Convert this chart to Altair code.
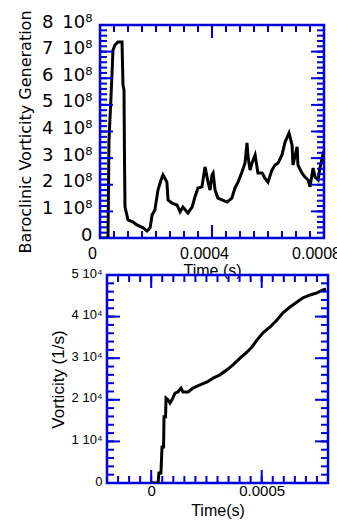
import altair as alt
import pandas as pd

BLUE = "#0000dd"

# ---------- top panel: baroclinic vorticity generation ----------
top_time = [0.0, 2.86e-5, 3.21e-5, 3.93e-5, 4.64e-5, 5.36e-5, 6.43e-5, 7.86e-5, 8.21e-5, 8.57e-5,
            8.75e-5, 8.93e-5, 1.00e-4, 1.18e-4, 1.32e-4, 1.54e-4, 1.68e-4, 1.79e-4, 1.86e-4, 1.96e-4,
            2.07e-4, 2.18e-4, 2.25e-4, 2.39e-4, 2.43e-4, 2.57e-4, 2.75e-4, 2.86e-4, 2.96e-4, 3.14e-4,
            3.29e-4, 3.39e-4, 3.50e-4, 3.64e-4, 3.75e-4, 3.86e-4, 3.93e-4, 4.00e-4, 4.04e-4, 4.11e-4,
            4.21e-4, 4.36e-4, 4.54e-4, 4.71e-4, 4.82e-4, 4.93e-4, 5.07e-4, 5.18e-4, 5.25e-4, 5.29e-4,
            5.36e-4, 5.43e-4, 5.54e-4, 5.64e-4, 5.79e-4, 5.89e-4, 6.00e-4, 6.14e-4, 6.25e-4, 6.36e-4,
            6.50e-4, 6.61e-4, 6.75e-4, 6.86e-4, 6.89e-4, 7.04e-4, 7.07e-4, 7.21e-4, 7.32e-4, 7.43e-4,
            7.50e-4, 7.61e-4, 7.68e-4, 7.79e-4, 7.86e-4, 7.96e-4, 8.04e-4]
top_bvg = [0.0, 0.0, 3.68e8, 5.30e8, 7.06e8, 7.25e8, 7.36e8, 7.36e8, 5.75e8, 5.56e8,
           2.93e8, 1.16e8, 0.68e8, 0.60e8, 0.49e8, 0.38e8, 0.26e8, 0.38e8, 0.86e8, 1.05e8,
           1.80e8, 2.18e8, 2.37e8, 2.10e8, 1.43e8, 1.31e8, 1.24e8, 0.98e8, 1.16e8, 0.94e8,
           1.16e8, 1.54e8, 1.88e8, 1.92e8, 2.67e8, 2.10e8, 1.80e8, 2.37e8, 2.44e8, 1.80e8,
           1.50e8, 1.43e8, 1.35e8, 1.50e8, 1.88e8, 2.10e8, 2.48e8, 2.82e8, 3.57e8, 3.04e8,
           2.55e8, 2.82e8, 3.12e8, 2.44e8, 2.44e8, 2.25e8, 2.10e8, 2.55e8, 2.74e8, 2.82e8,
           3.12e8, 3.61e8, 3.94e8, 3.49e8, 2.74e8, 3.42e8, 2.74e8, 2.44e8, 2.29e8, 2.18e8,
           1.92e8, 2.63e8, 2.29e8, 2.18e8, 2.67e8, 3.12e8, 2.93e8]

# ---------- bottom panel: vorticity ----------
bot_time = [0.0, 3.1e-5, 3.5e-5, 4.4e-5, 4.9e-5, 5.6e-5, 5.8e-5, 6.5e-5, 6.7e-5, 7.6e-5,
            8.5e-5, 9.4e-5, 1.08e-4, 1.21e-4, 1.35e-4, 1.44e-4, 1.67e-4, 1.89e-4, 2.21e-4, 2.53e-4,
            2.80e-4, 3.11e-4, 3.43e-4, 3.70e-4, 4.02e-4, 4.34e-4, 4.56e-4, 4.79e-4, 5.06e-4, 5.38e-4,
            5.69e-4, 5.96e-4, 6.28e-4, 6.60e-4, 6.87e-4, 7.19e-4, 7.50e-4, 7.77e-4, 7.91e-4]
bot_vort = [0, 0, 2400, 2400, 8650, 8650, 15900, 15900, 20400, 20000,
            19200, 20000, 21600, 21900, 22800, 21900, 21900, 22800, 23600, 24300,
            25200, 26000, 27200, 28400, 30000, 31500, 32700, 34400, 36100, 37500,
            39200, 40900, 42300, 43500, 44500, 45200, 45700, 46400, 46600]

# ---------- ticks ----------
top_x_major = [0, 0.0004, 0.0008]
top_x_minor = [round(i * 0.00005, 6) for i in range(0, 17)]
top_y_major = [i * 1e8 for i in range(0, 9)]
top_y_minor = [i * 2e7 for i in range(0, 41)]
bot_x_major = [0, 0.0005]
bot_x_minor = [round(-0.0002 + i * 0.00005, 6) for i in range(0, 21)]
bot_y_major = [i * 1e4 for i in range(0, 6)]
bot_y_minor = [i * 2e3 for i in range(0, 26)]

MAJ = 13
MIN = 7


def label_axis(values, **kw):
    return alt.Axis(values=values, ticks=False, tickSize=0, domain=False, grid=False,
                    labelColor="black", titleColor="black", titleFontWeight="normal",
                    labelFlush=False, labelOverlap=False, **kw)


def tick_rules(vals, scale, side, length, w, h):
    base = alt.Chart(pd.DataFrame({"p": vals})).mark_rule(color=BLUE, strokeWidth=2)
    if side in ("top", "bottom"):
        pos = alt.X("p:Q", scale=scale, axis=None)
        if side == "top":
            return base.encode(x=pos, y=alt.value(0), y2=alt.value(length))
        return base.encode(x=pos, y=alt.value(h), y2=alt.value(h - length))
    pos = alt.Y("p:Q", scale=scale, axis=None)
    if side == "left":
        return base.encode(y=pos, x=alt.value(0), x2=alt.value(length))
    return base.encode(y=pos, x=alt.value(w), x2=alt.value(w - length))


def panel(df, xdom, ydom, x_axis, y_axis, xmaj, xmin, ymaj, ymin, w, h):
    xs = alt.Scale(domain=xdom, nice=False, zero=False)
    ys = alt.Scale(domain=ydom, nice=False, zero=False)
    line = alt.Chart(df).mark_line(color="black", strokeWidth=3, clip=True).encode(
        x=alt.X("t:Q", scale=xs, axis=x_axis),
        y=alt.Y("v:Q", scale=ys, axis=y_axis),
    )
    layers = [line]
    for side in ("top", "bottom"):
        layers.append(tick_rules(xmin, xs, side, MIN, w, h))
        layers.append(tick_rules(xmaj, xs, side, MAJ, w, h))
    for side in ("left", "right"):
        layers.append(tick_rules(ymin, ys, side, MIN, w, h))
        layers.append(tick_rules(ymaj, ys, side, MAJ, w, h))
    return alt.layer(*layers).resolve_axis(x="independent", y="independent").properties(
        width=w, height=h)


df_top = pd.DataFrame({"t": top_time, "v": top_bvg})
df_bot = pd.DataFrame({"t": bot_time, "v": bot_vort})

top = panel(
    df_top, [0, 0.0008], [0, 8e8],
    label_axis(top_x_major, title="Time (s)", orient="bottom",
               labelExpr="datum.value == 0 ? '0' : format(datum.value, '.4f')",
               labelFont="Liberation Sans", labelFontSize=16, labelPadding=7, labelOffset=-8,
               titleFont="Liberation Sans", titleFontSize=16, titlePadding=1),
    label_axis(top_y_major, title="Baroclinic Vorticity Generation", orient="left",
               labelExpr="datum.value == 0 ? '0' : format(round(datum.value / 1e8), 'd') + '\u200210\u2078'",
               labelFont="DejaVu Sans", labelFontSize=18, labelPadding=8, labelOffset=-3,
               titleFont="DejaVu Sans", titleFontSize=16, titlePadding=8),
    top_x_major, top_x_minor, top_y_major, top_y_minor, 224, 213,
)

bottom = panel(
    df_bot, [-0.0002, 0.0008], [0, 5e4],
    label_axis(bot_x_major, title="Time(s)", orient="bottom",
               labelExpr="datum.value == 0 ? '0' : format(datum.value, '.4f')",
               labelFont="Liberation Sans", labelFontSize=15, labelPadding=0,
               titleFont="Liberation Sans", titleFontSize=16, titlePadding=4),
    label_axis(bot_y_major, title="Vorticity  (1/s)", orient="left",
               labelExpr="datum.value == 0 ? '0' : format(round(datum.value / 1e4), 'd') + ' 10\u2074'",
               labelFont="Liberation Sans", labelFontSize=13, labelPadding=5, labelOffset=-2,
               titleFont="Liberation Sans", titleFontSize=17, titlePadding=4),
    bot_x_major, bot_x_minor, bot_y_major, bot_y_minor, 221, 208,
)

spacer = alt.Chart(pd.DataFrame({"a": [0]})).mark_point(opacity=0).encode(
    x=alt.X("a:Q", axis=None), y=alt.Y("a:Q", axis=None)
).properties(width=1, height=208, view=alt.ViewBackground(strokeOpacity=0))

bottom_row = alt.hconcat(spacer, bottom, spacing=6, bounds="flush")

chart = alt.vconcat(top, bottom_row, spacing=37, bounds="flush").properties(
    autosize=alt.AutoSizeParams(type="none"),
    padding={"left": 100, "top": 25, "right": 237, "bottom": 496},
    background="white",
).configure_view(stroke=BLUE, strokeWidth=2.5)

chart.save("out.html", embed_options={"renderer": "svg", "actions": False})
